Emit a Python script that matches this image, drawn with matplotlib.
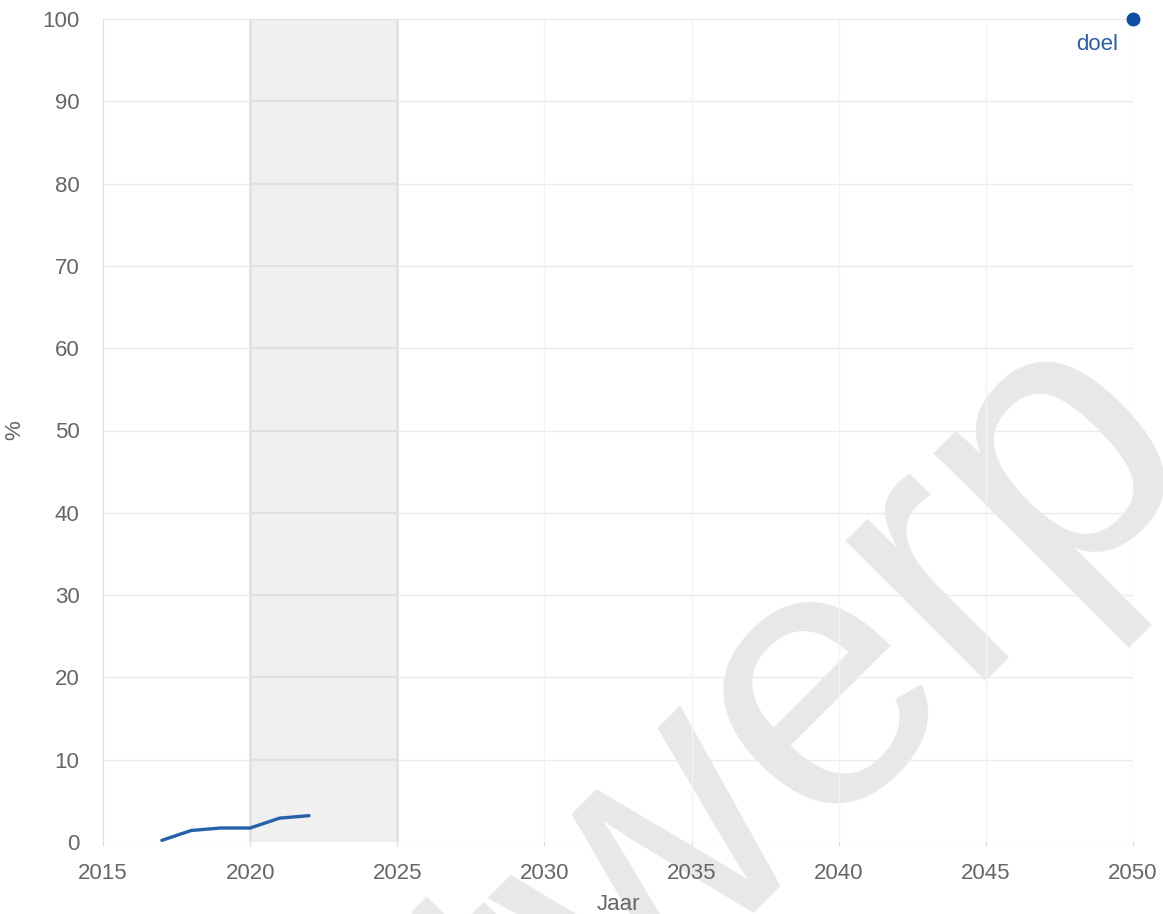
import numpy as np
from matplotlib import pyplot as plt
import matplotlib
matplotlib.rcParams['font.family'] = ['Liberation Sans', 'DejaVu Sans']

# gemeten aandeel (%) per jaar
jaren = [2017, 2018, 2019, 2020, 2021, 2022]
waarden = [0.2, 1.4, 1.7, 1.7, 2.9, 3.2]

# doelstelling
doel_jaar = 2050
doel_waarde = 100

x_ticks = [2015, 2020, 2025, 2030, 2035, 2040, 2045, 2050]
y_ticks = [0, 10, 20, 30, 40, 50, 60, 70, 80, 90, 100]
band = (2020, 2025)

fig = plt.figure(figsize=(11.63, 9.14), dpi=100, facecolor='white')
ax = fig.add_axes([103/1163, 1-842/914, (1133-103)/1163, (842-19)/914])
ax.set_facecolor('none')

# watermerk
fig.text(0.199, -0.570, 'Antwerp', fontsize=270, color='#e8e8e6', rotation=45,
         rotation_mode='anchor', ha='left', va='baseline', zorder=-5,
         family='Liberation Sans')

ax.axvspan(band[0], band[1], color='#f0f0f0', zorder=0.5, lw=0)
for b in band:
    ax.axvline(b, color='#e2e2e2', lw=2, zorder=0.8)
ax.hlines(y_ticks[1:], band[0], band[1], color='#e0e0e0', lw=1.5, zorder=0.7)

for yt in y_ticks:
    ax.axhline(yt, color='#ebebeb', lw=1, zorder=0.6)
for xt in x_ticks[1:]:
    ax.axvline(xt, color='#f3f3f3', lw=1, zorder=0.6)

ax.plot(jaren, waarden, color='#2560a8', lw=2.4, solid_capstyle='round', zorder=3)
ax.plot([doel_jaar], [doel_waarde], 'o', color='#0b4ea2', ms=9, zorder=4, clip_on=False)
ax.annotate('doel', (doel_jaar, doel_waarde), xytext=(-26, -18), textcoords='offset points',
            color='#2c5ea8', fontsize=16, ha='center', va='center')

ax.set_xlim(2015, 2050)
ax.set_ylim(0, 100)
ax.set_xticks(x_ticks)
ax.set_yticks(y_ticks)
ax.tick_params(axis='both', colors='#d8d8d8', labelcolor='#666666', labelsize=16, length=3)
ax.tick_params(axis='y', pad=17, length=0)
ax.tick_params(axis='x', pad=12)

for s in ['top', 'right', 'bottom']:
    ax.spines[s].set_visible(False)
ax.spines['left'].set_color('#dddddd')

ax.set_xlabel('Jaar', color='#666666', fontsize=16, labelpad=7)
ax.set_ylabel('%', color='#666666', fontsize=16, labelpad=12)

plt.savefig('out.png', dpi=100)
